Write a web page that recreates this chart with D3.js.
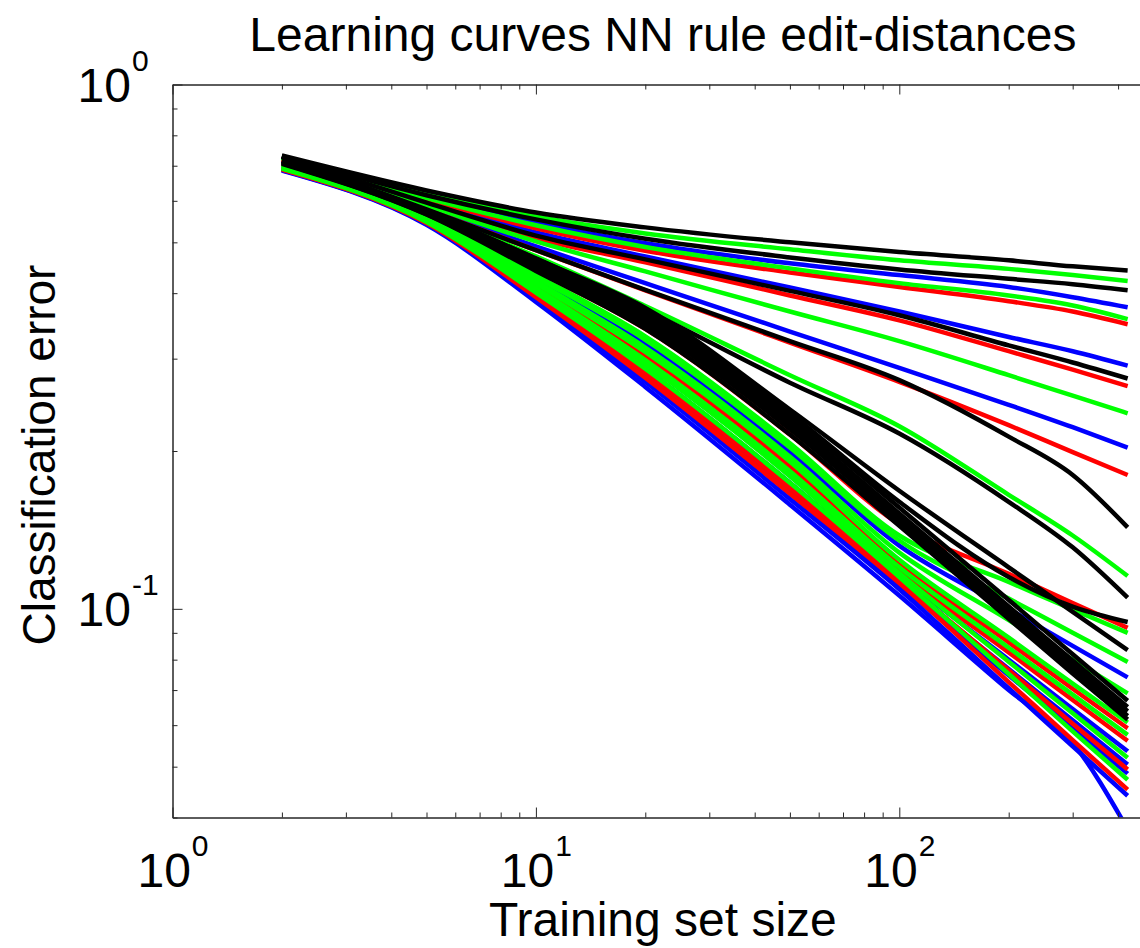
<!DOCTYPE html>
<html>
<head>
<meta charset="utf-8">
<script src="https://cdn.jsdelivr.net/npm/d3@7"></script>
<style>
  html, body { margin: 0; padding: 0; background: #fff; }
  svg { display: block; }
  text { font-family: "Liberation Sans", Arial, sans-serif; fill: #000; }
</style>
</head>
<body>
<svg id="chart" width="1140" height="948"></svg>
<script>
// Training set sizes at which each learning curve was evaluated
const sizes = [2, 5, 10, 20, 50, 100, 200, 300, 425];

// Classification error per curve (one row per edit-distance setting), grouped by colour
const blackCurves = [
  [0.732, 0.628, 0.570, 0.534, 0.500, 0.479, 0.462, 0.450, 0.442],
  [0.730, 0.615, 0.553, 0.508, 0.468, 0.444, 0.426, 0.416, 0.405],
  [0.728, 0.595, 0.515, 0.464, 0.404, 0.363, 0.318, 0.295, 0.275],
  [0.728, 0.578, 0.483, 0.406, 0.324, 0.273, 0.213, 0.180, 0.143],
  [0.728, 0.570, 0.466, 0.372, 0.270, 0.216, 0.160, 0.131, 0.105],
  [0.715, 0.575, 0.465, 0.375, 0.240, 0.168, 0.120, 0.0987, 0.0834],
  [0.714, 0.573, 0.461, 0.370, 0.236, 0.160, 0.115, 0.101, 0.0944],
  [0.712, 0.572, 0.457, 0.364, 0.232, 0.156, 0.104, 0.0819, 0.0668],
  [0.711, 0.570, 0.453, 0.359, 0.228, 0.152, 0.101, 0.0797, 0.0650],
  [0.709, 0.568, 0.449, 0.353, 0.224, 0.150, 0.0996, 0.0783, 0.0638],
  [0.708, 0.566, 0.445, 0.348, 0.220, 0.147, 0.0976, 0.0768, 0.0625],
  [0.706, 0.565, 0.441, 0.342, 0.215, 0.144, 0.0957, 0.0753, 0.0615]
];
const greenCurves = [
  [0.728, 0.620, 0.560, 0.520, 0.485, 0.462, 0.445, 0.433, 0.422],
  [0.726, 0.607, 0.539, 0.490, 0.446, 0.418, 0.396, 0.379, 0.357],
  [0.725, 0.588, 0.502, 0.440, 0.369, 0.324, 0.279, 0.255, 0.236],
  [0.724, 0.572, 0.470, 0.378, 0.279, 0.223, 0.165, 0.138, 0.1155],
  [0.703, 0.561, 0.433, 0.331, 0.207, 0.138, 0.1125, 0.0997, 0.0900],
  [0.702, 0.559, 0.429, 0.326, 0.203, 0.135, 0.1046, 0.0900, 0.0792],
  [0.699, 0.556, 0.421, 0.315, 0.195, 0.128, 0.0952, 0.0800, 0.0690],
  [0.697, 0.554, 0.417, 0.309, 0.191, 0.124, 0.0881, 0.0720, 0.0607],
  [0.694, 0.551, 0.409, 0.298, 0.183, 0.120, 0.0843, 0.0686, 0.0575],
  [0.693, 0.549, 0.405, 0.293, 0.179, 0.117, 0.0793, 0.0632, 0.0520],
  [0.691, 0.547, 0.401, 0.287, 0.174, 0.115, 0.0751, 0.0584, 0.0472]
];
const blueCurves = [
  [0.722, 0.610, 0.545, 0.498, 0.456, 0.433, 0.411, 0.393, 0.376],
  [0.718, 0.598, 0.522, 0.470, 0.410, 0.369, 0.330, 0.310, 0.291],
  [0.716, 0.582, 0.491, 0.418, 0.338, 0.288, 0.245, 0.222, 0.203],
  [0.700, 0.558, 0.425, 0.320, 0.199, 0.132, 0.1000, 0.0850, 0.0740],
  [0.691, 0.547, 0.401, 0.287, 0.174, 0.116, 0.0800, 0.0644, 0.0535],
  [0.690, 0.545, 0.397, 0.282, 0.170, 0.113, 0.0768, 0.0613, 0.0505],
  [0.688, 0.544, 0.393, 0.276, 0.166, 0.111, 0.0747, 0.0592, 0.0485],
  [0.687, 0.542, 0.389, 0.271, 0.162, 0.109, 0.0706, 0.0547, 0.0440],
  [0.685, 0.540, 0.385, 0.265, 0.158, 0.106, 0.0700, 0.0555, 0.0380]
];
const redCurves = [
  [0.722, 0.603, 0.532, 0.482, 0.438, 0.411, 0.386, 0.369, 0.349],
  [0.720, 0.592, 0.509, 0.458, 0.396, 0.355, 0.310, 0.286, 0.266],
  [0.718, 0.578, 0.483, 0.405, 0.322, 0.271, 0.224, 0.199, 0.180],
  [0.706, 0.565, 0.441, 0.342, 0.215, 0.145, 0.1166, 0.1026, 0.0920],
  [0.696, 0.552, 0.413, 0.304, 0.187, 0.122, 0.0863, 0.0704, 0.0592],
  [0.693, 0.550, 0.407, 0.296, 0.181, 0.118, 0.0826, 0.0670, 0.0560],
  [0.690, 0.545, 0.397, 0.282, 0.170, 0.114, 0.0764, 0.0604, 0.0494],
  [0.688, 0.544, 0.393, 0.276, 0.166, 0.112, 0.0725, 0.0562, 0.0452]
];

// Axis limits and labels
const xDomain = [1, 500];
const yDomain = [0.04, 1];
const titleText = "Learning curves NN rule edit-distances";
const xLabelText = "Training set size";
const yLabelText = "Classification error";

const svg = d3.select("#chart");
const W = 1140, H = 948;
const plotL = 172.5, plotT = 84.5, plotB = 817.5;
const decadePx = 363.4;
const plotR = plotL + Math.log10(xDomain[1]) * decadePx;

const x = d3.scaleLog().domain(xDomain).range([plotL, plotR]);
const y = d3.scaleLog().domain(yDomain).range([plotB, plotT]);

svg.append("rect").attr("width", W).attr("height", H).attr("fill", "#fff");

svg.append("defs").append("clipPath").attr("id", "plotClip")
  .append("rect").attr("x", plotL).attr("y", plotT)
  .attr("width", plotR - plotL).attr("height", plotB - plotT);

// Curves
const line = d3.line()
  .x((d, i) => x(sizes[i]))
  .y(d => y(d))
  .curve(d3.curveMonotoneX);

const groups = [
  { color: "#0000ff", rows: blueCurves },
  { color: "#ff0000", rows: redCurves },
  { color: "#00ff00", rows: greenCurves },
  { color: "#000000", rows: blackCurves }
];
const plot = svg.append("g").attr("clip-path", "url(#plotClip)");
groups.forEach(g => {
  plot.selectAll(null).data(g.rows).enter().append("path")
    .attr("d", line)
    .attr("fill", "none")
    .attr("stroke", g.color)
    .attr("stroke-width", 4.5)
    .attr("stroke-linejoin", "round");
});

// Axes (ticks point inward, box around the plot)
const xTicks = x.ticks().filter(v => v <= xDomain[1]);
const yTicks = y.ticks().filter(v => v >= yDomain[0] && v <= yDomain[1]);
const isDecade = v => Math.abs(Math.log10(v) - Math.round(Math.log10(v))) < 1e-9;
const xMinor = xTicks.filter(v => !isDecade(v)), xMajor = xTicks.filter(isDecade);
const yMinor = yTicks.filter(v => !isDecade(v)), yMajor = yTicks.filter(isDecade);

function styleAxis(sel) {
  sel.select(".domain").attr("stroke", "#262626").attr("stroke-width", 1);
  sel.selectAll(".tick line").attr("stroke", "#262626").attr("stroke-width", 1);
  sel.selectAll(".tick text").remove();
}

[[xMinor, 5], [xMajor, 10]].forEach(([vals, len]) => {
  svg.append("g").attr("transform", `translate(0,${plotB})`)
    .call(d3.axisBottom(x).tickValues(vals).tickSizeInner(-len).tickSizeOuter(0).tickFormat(""))
    .call(styleAxis);
  svg.append("g").attr("transform", `translate(0,${plotT})`)
    .call(d3.axisTop(x).tickValues(vals).tickSizeInner(-len).tickSizeOuter(0).tickFormat(""))
    .call(styleAxis);
});
[[yMinor, 5], [yMajor, 10]].forEach(([vals, len]) => {
  svg.append("g").attr("transform", `translate(${plotL},0)`)
    .call(d3.axisLeft(y).tickValues(vals).tickSizeInner(-len).tickSizeOuter(0).tickFormat(""))
    .call(styleAxis);
  svg.append("g").attr("transform", `translate(${plotR},0)`)
    .call(d3.axisRight(y).tickValues(vals).tickSizeInner(-len).tickSizeOuter(0).tickFormat(""))
    .call(styleAxis);
});

// Tick labels as 10 with a raised exponent
const baseSize = 48, expSize = 30;
const baseW = 53.4; // width of "10" at baseSize
xMajor.forEach(v => {
  const e = Math.round(Math.log10(v));
  const cx = x(v);
  const expW = String(e).length * 16.7;
  const x0 = cx - (baseW + expW) / 2;
  svg.append("text").attr("x", x0).attr("y", 887).attr("font-size", baseSize).text("10");
  svg.append("text").attr("x", x0 + baseW + 1).attr("y", 856).attr("font-size", expSize).text(String(e));
});
yMajor.forEach(v => {
  const e = Math.round(Math.log10(v));
  const cy = y(v);
  svg.append("text").attr("x", 131).attr("y", cy + 17).attr("text-anchor", "end")
    .attr("font-size", baseSize).text("10");
  svg.append("text").attr("x", 132).attr("y", cy - 14).attr("font-size", expSize).text(String(e));
});

// Title and axis labels
const midX = (plotL + plotR) / 2;
svg.append("text").attr("x", midX).attr("y", 51).attr("text-anchor", "middle")
  .attr("font-size", 48).text(titleText);
svg.append("text").attr("x", midX).attr("y", 936).attr("text-anchor", "middle")
  .attr("font-size", 48).text(xLabelText);
svg.append("text").attr("transform", `translate(55,455) rotate(-90)`)
  .attr("text-anchor", "middle").attr("font-size", 46).text(yLabelText);
</script>
</body>
</html>
